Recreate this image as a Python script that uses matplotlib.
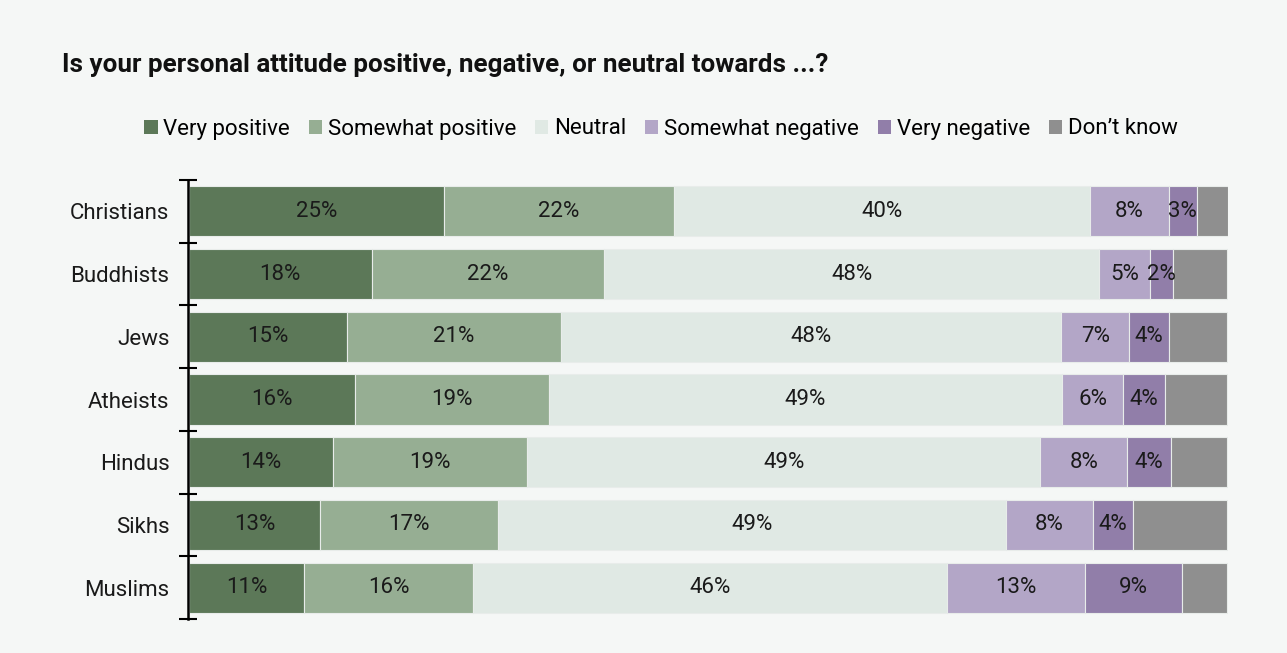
import matplotlib
matplotlib.use("Agg")
import matplotlib.pyplot as plt
from matplotlib.patches import Patch
import numpy as np

plt.rcParams['font.family'] = ['Roboto', 'DejaVu Sans']

categories = ["Christians", "Buddhists", "Jews", "Atheists", "Hindus", "Sikhs", "Muslims"]
series_names = ["Very positive", "Somewhat positive", "Neutral", "Somewhat negative", "Very negative", "Don\u2019t know"]
very_positive = [24.6, 17.6, 15.2, 16.0, 13.9, 12.6, 11.1]
somewhat_positive = [22.1, 22.4, 20.6, 18.7, 18.7, 17.2, 16.3]
neutral = [40.1, 47.7, 48.2, 49.4, 49.4, 48.9, 45.6]
somewhat_negative = [7.6, 4.9, 6.6, 5.9, 8.4, 8.4, 13.3]
very_negative = [2.7, 2.2, 3.8, 4.0, 4.2, 3.8, 9.4]
dont_know = [3.0, 5.2, 5.6, 6.0, 5.4, 9.1, 4.3]
show_label = [True, True, True, True, True, False]

colors = ["#5c7858", "#96ae93", "#e0e9e4", "#b3a6c7", "#917ea9", "#8f8f8f"]
series = [very_positive, somewhat_positive, neutral, somewhat_negative, very_negative, dont_know]

bg = "#f5f7f6"
fig = plt.figure(figsize=(12.87, 6.53), dpi=100, facecolor=bg)
ax = fig.add_axes([189/1287, 1-619/653, (1228-189)/1287, (619-180)/653])
ax.set_facecolor(bg)

y = np.arange(len(categories))
left = np.zeros(len(categories))
for vals, col, name, lab in zip(series, colors, series_names, show_label):
    vals = np.array(vals)
    ax.barh(y, vals, left=left, height=0.8, color=col, edgecolor="#e8ecea", linewidth=0.8, label=name)
    if lab:
        for yi, l, v in zip(y, left, vals):
            ax.text(l + v/2, yi, f"{round(v)}%", ha="center", va="center", fontsize=16, color="#1a1a1a")
    left = left + vals

ax.set_xlim(0, left.max())
ax.set_ylim(len(categories)-0.5, -0.5)
ax.set_yticks(y)
ax.set_yticklabels(categories)
ax.set_yticks(np.arange(len(categories)+1)-0.5, minor=True)
ax.tick_params(axis='y', which='major', length=0, pad=13, labelsize=16, labelcolor="#1a1a1a")
ax.tick_params(axis='y', which='minor', length=13, width=1.5, direction='inout', color='black')
ax.set_xticks([])
for s in ["top", "right", "bottom"]:
    ax.spines[s].set_visible(False)
ax.spines["left"].set_linewidth(1.8)
ax.spines["left"].set_position(("outward", 1))

fig.text(62/1287, 1-65/653, "Is your personal attitude positive, negative, or neutral towards ...?",
         fontsize=18.7, fontweight="bold", ha="left", va="center", color="#111111")

handles = [Patch(facecolor=c, edgecolor='none') for c in colors]
fig.legend(handles, series_names, loc="center", bbox_to_anchor=(661/1287, 1-129/653), ncol=6,
           frameon=False, fontsize=16, handlelength=0.6, handleheight=0.6, handletextpad=0.25,
           columnspacing=0.85, borderaxespad=0)

fig.savefig("out.png", dpi=100, facecolor=bg)
